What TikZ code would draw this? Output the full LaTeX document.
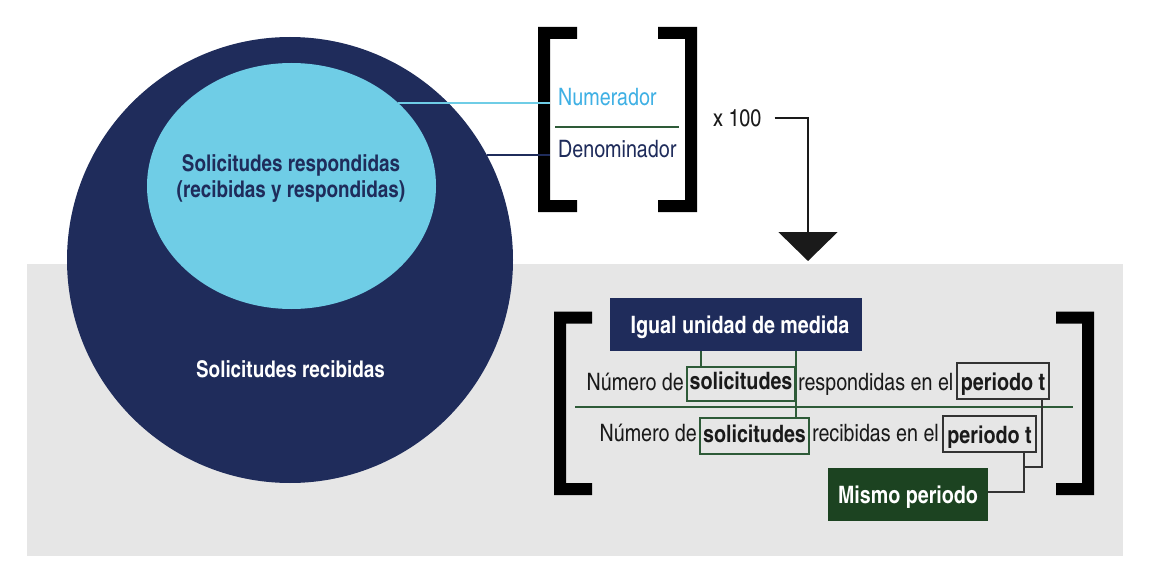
\documentclass[tikz,border=0pt]{standalone}
\usepackage{fontspec}
\setmainfont{TeX Gyre Heros Cn}
\usetikzlibrary{arrows.meta,shapes.geometric}
\definecolor{navy}{HTML}{1F2C5B}
\definecolor{lblue}{HTML}{6FCDE6}
\definecolor{numblue}{HTML}{3FB0E4}
\definecolor{glin}{HTML}{2E5B38}
\definecolor{mgreen}{HTML}{1C4321}
\definecolor{bggray}{HTML}{E6E6E6}
\definecolor{dgray}{HTML}{333333}
\definecolor{ink}{HTML}{1A1A1A}
\newcommand{\brkL}[4]{\fill[black] (#1,#2) -- (#4,#2) -- (#4,#2+12) -- (#1+12,#2+12) -- (#1+12,#3-12) -- (#4,#3-12) -- (#4,#3) -- (#1,#3) -- cycle;}
\newcommand{\brkR}[4]{\fill[black] (#1,#2) -- (#4,#2) -- (#4,#3) -- (#1,#3) -- (#1,#3-12) -- (#4-12,#3-12) -- (#4-12,#2+12) -- (#1,#2+12) -- cycle;}
\tikzset{
  fsz/.style={font=\fontsize{24}{26}\selectfont},
  txt/.style={fsz, inner sep=0pt, text=ink},
  sbox/.style={draw=glin, line width=2pt, inner sep=0pt, text height=17.5pt, text depth=5pt, font=\fontsize{24}{26}\selectfont\bfseries, text=ink},
  pbox/.style={draw=dgray, line width=2pt, inner sep=0pt, text height=20.5pt, text depth=2pt, font=\fontsize{24}{26}\selectfont\bfseries, text=ink},
  fillbox/.style={inner sep=0pt, text height=17.5pt, text depth=0pt, text=white, font=\fontsize{24}{26}\selectfont\bfseries},
  gl/.style={draw=glin, line width=2pt},
  dl/.style={draw=dgray, line width=2pt},
}
\begin{document}
\begin{tikzpicture}[x=1pt,y=-1pt]
\useasboundingbox (0,0) rectangle (1149,575);
\fill[bggray] (27,264) rectangle (1123,556);
% circles
\node[circle, fill=navy, minimum size=446pt, inner sep=0pt, outer sep=0pt] (recv) at (290,260) {};
\node[ellipse, fill=lblue, minimum width=289pt, minimum height=246pt, inner sep=0pt, outer sep=0pt] (resp) at (291.5,186) {};
\node[font=\fontsize{23}{26}\selectfont\bfseries, text=navy, align=center, inner sep=0pt] (resptxt) at (291,178) {Solicitudes respondidas\\(recibidas y respondidas)};
\node[font=\fontsize{23}{26}\selectfont\bfseries, text=white, anchor=base, inner sep=0pt] (recvtxt) at (290.5,377.3) {Solicitudes recibidas};
% top formula
\brkL{538}{27}{212}{577}
\brkR{658}{27}{212}{697}
\node[fsz, anchor=base west, inner xsep=8pt, inner ysep=0pt, text=numblue] (num) at (550,106) {Numerador};
\node[fsz, anchor=base west, inner xsep=8pt, inner ysep=0pt, text=navy] (den) at (550,158) {Denominador};
\draw[gl] (555,127) -- (679,127);
\draw[lblue, line width=2pt] (resp.38) -- (resp.38 -| num.west);
\draw[navy, line width=2pt] (recv.28) -- (recv.28 -| den.west);
\node[fsz, anchor=base west, inner xsep=13pt, inner ysep=0pt, text=ink] (x100) at (700,126.7) {x 100};
\coordinate (tip) at (808,261);
\draw[line width=2pt, draw=ink, -{Triangle[width=59pt,length=29pt]}] (x100.east) -- (x100.east -| tip) -- (tip);
% bottom formula
\brkL{554}{311.7}{495}{592}
\brkR{1056}{311.7}{495}{1094}
\node[fillbox, fill=navy, minimum width=252pt, minimum height=53pt] (igual) at (736,324.5) {\hspace*{8pt}Igual unidad de medida};
\node[sbox, minimum width=108pt, minimum height=34pt] (s1) at (741,383.7) {solicitudes};
\node[pbox, minimum width=92pt, minimum height=35.7pt] (p1) at (1003,381.2) {periodo t};
\node[txt, anchor=base east] (n1) at (684,390) {Número de};
\node[txt, anchor=base west] (r1) at (798,390) {respondidas en el};
\draw[gl] (575,407.3) -- (1073,407.3);
\node[sbox, minimum width=109pt, minimum height=35.7pt] (s2) at (754.5,436.2) {solicitudes};
\node[pbox, minimum width=93pt, minimum height=35.7pt] (p2) at (989.5,433.9) {periodo t};
\node[txt, anchor=base east] (n2) at (697,441.7) {Número de};
\node[txt, anchor=base west] (r2) at (812,441.7) {recibidas en el};
\node[fillbox, fill=mgreen, minimum width=160pt, minimum height=52.4pt] (mismo) at (908,494.5) {Mismo periodo};
% connectors
\coordinate (c1) at (701,0);
\draw[gl] (igual.south -| c1) -- (s1.north -| c1);
\draw[gl] (igual.south -| s1.east) -- (s2.north -| s1.east);
\coordinate (k1) at (1042,467);
\coordinate (k2) at (1023.5,492);
\draw[dl] (p1.south -| k1) -- (k1) -- (k1 -| k2);
\draw[dl] (p2.south -| k2) -- (k2) -- (k2 -| mismo.east);
\end{tikzpicture}
\end{document}
